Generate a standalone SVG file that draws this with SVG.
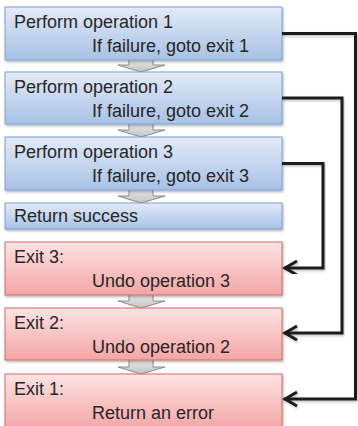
<svg xmlns="http://www.w3.org/2000/svg" width="358" height="426" viewBox="0 0 358 426">
<style>
text{font-family:"Liberation Sans",Arial,sans-serif;font-size:18px;fill:#262626}
.blue{fill:url(#gb);stroke:#7f9fd2;stroke-width:1;filter:url(#sh)}
.red{fill:url(#gr);stroke:#d46a6a;stroke-width:1;filter:url(#sh)}
.darr{fill:url(#gg);stroke:#8a8a8a;stroke-width:1}
.conn{fill:none;stroke:#1e1e1e;stroke-width:3;stroke-linejoin:miter;marker-end:url(#ah);filter:url(#sh2)}
</style>
<defs>
<linearGradient id="gb" x1="0" y1="0" x2="0" y2="1">
<stop offset="0" stop-color="#e3ebf7"/><stop offset="1" stop-color="#a7c1e5"/>
</linearGradient>
<linearGradient id="gr" x1="0" y1="0" x2="0" y2="1">
<stop offset="0" stop-color="#fde3e3"/><stop offset="1" stop-color="#f4a5a5"/>
</linearGradient>
<linearGradient id="gg" x1="0" y1="0" x2="0" y2="1">
<stop offset="0" stop-color="#ececec"/><stop offset="1" stop-color="#c4c4c4"/>
</linearGradient>
<filter id="sh" x="-5%" y="-10%" width="110%" height="130%">
<feDropShadow dx="1" dy="1.5" stdDeviation="1" flood-color="#000" flood-opacity="0.3"/>
</filter>
<filter id="sh2" x="-5%" y="-5%" width="110%" height="110%">
<feDropShadow dx="1" dy="1.5" stdDeviation="0.8" flood-color="#000" flood-opacity="0.25"/>
</filter>
<marker id="ah" markerUnits="userSpaceOnUse" markerWidth="24" markerHeight="24" viewBox="-18 -12 24 24" refX="0" refY="0" orient="auto" overflow="visible">
<path d="M-13,-7 L-1,0 L-13,7" fill="none" stroke="#1e1e1e" stroke-width="3"/>
</marker>
</defs>

<g id="down-arrows">
<path class="darr" d="M129,58 H153 V65 H165 L141,72 L118,65 H129 Z"/>
<path class="darr" d="M129,122 H153 V130 H165 L141,137 L118,130 H129 Z"/>
<path class="darr" d="M129,188 H153 V196 H165 L141,203 L118,196 H129 Z"/>
<path class="darr" d="M129,293 H153 V301 H165 L141,308 L118,301 H129 Z"/>
<path class="darr" d="M129,358 H153 V367 H165 L141,374 L118,367 H129 Z"/>
</g>

<g id="op1">
<rect class="blue" x="5" y="7" width="277" height="53"/>
<text x="14" y="28">Perform operation 1</text>
<text x="92" y="52">If failure, goto exit 1</text>
</g>
<g id="op2">
<rect class="blue" x="5" y="72" width="277" height="52"/>
<text x="14" y="93">Perform operation 2</text>
<text x="92" y="117">If failure, goto exit 2</text>
</g>
<g id="op3">
<rect class="blue" x="5" y="137" width="277" height="53"/>
<text x="14" y="158">Perform operation 3</text>
<text x="92" y="182">If failure, goto exit 3</text>
</g>
<g id="success">
<rect class="blue" x="5" y="203" width="277" height="26"/>
<text x="14" y="222">Return success</text>
</g>
<g id="exit3">
<rect class="red" x="5" y="242" width="277" height="53"/>
<text x="14" y="263">Exit 3:</text>
<text x="92" y="287">Undo operation 3</text>
</g>
<g id="exit2">
<rect class="red" x="5" y="308" width="277" height="52"/>
<text x="14" y="329">Exit 2:</text>
<text x="92" y="353">Undo operation 2</text>
</g>
<g id="exit1">
<rect class="red" x="5" y="374" width="277" height="56"/>
<text x="14" y="395">Exit 1:</text>
<text x="92" y="419">Return an error</text>
</g>

<g id="connectors">
<path class="conn" d="M282,33.5 H355.5 V399 H284"/>
<path class="conn" d="M282,98 H342 V333 H284"/>
<path class="conn" d="M282,163.5 H323 V268 H284"/>
</g>
</svg>
